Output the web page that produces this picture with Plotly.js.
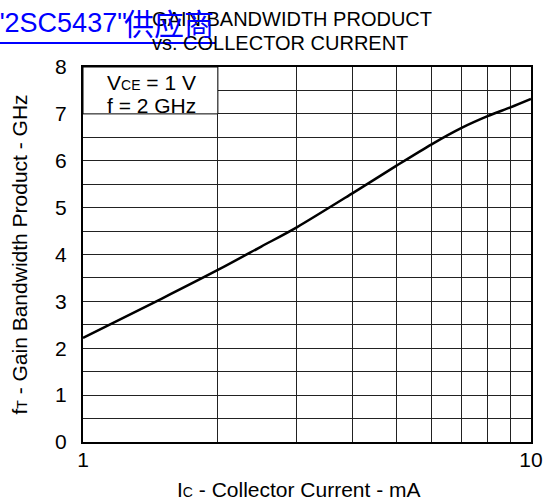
<!DOCTYPE html>
<html>
<head>
<meta charset="utf-8">
<script src="https://cdn.plot.ly/plotly-3.0.1.min.js"></script>
<style>body{margin:0;padding:0;background:#fff;}</style>
</head>
<body>
<div id="chart" style="width:543px;height:501px;"></div>
<script>
// Data
const collectorCurrent = [1, 1.5, 2, 2.5, 3, 4, 5, 6, 7, 8, 9, 10];          // mA
const gainBandwidth    = [2.22, 3.06, 3.67, 4.17, 4.58, 5.31, 5.89, 6.35, 6.70, 6.95, 7.14, 7.32]; // GHz
const xTickVals  = [1, 2, 3, 4, 5, 6, 7, 8, 9, 10];
const xTickText  = ['1', '', '', '', '', '', '', '', '', '10'];
const yTickVals  = [0, 0.5, 1, 1.5, 2, 2.5, 3, 3.5, 4, 4.5, 5, 5.5, 6, 6.5, 7, 7.5, 8];
const yTickText  = ['0', '', '1', '', '2', '', '3', '', '4', '', '5', '', '6', '', '7', '', '8'];
const conditionBox = {x: [1, 2], y: [7, 8]};

const FONT = 'Liberation Sans, Arial, Helvetica, sans-serif';
const sub = t => '<span style="font-size:14px">' + t + '</span>';

const W = 543, H = 501, L = 83, R = 12, T = 67, B = 59;
const pw = W - L - R, ph = H - T - B;
const px = v => (v - L) / pw;
const py = v => (H - B - v) / ph;

const trace = {
  x: collectorCurrent,
  y: gainBandwidth,
  type: 'scatter',
  mode: 'lines',
  line: {color: '#000', width: 2.5, shape: 'spline', smoothing: 0.8},
  hoverinfo: 'x+y',
  showlegend: false
};

const layout = {
  width: W, height: H,
  margin: {l: L, r: R, t: T, b: B, pad: 0},
  paper_bgcolor: '#fff',
  plot_bgcolor: '#fff',
  font: {family: FONT, size: 21, color: '#000'},
  showlegend: false,
  xaxis: {
    type: 'log',
    range: [0, 1],
    tickvals: xTickVals,
    ticktext: xTickText,
    ticks: '',
    ticklabelstandoff: -2,
    showgrid: true,
    gridcolor: '#222',
    gridwidth: 1,
    showline: true,
    linecolor: '#000',
    linewidth: 2,
    mirror: true,
    zeroline: false,
    tickfont: {family: FONT, size: 21, color: '#000'},
    automargin: false
  },
  yaxis: {
    range: [0, 8],
    tickvals: yTickVals,
    ticktext: yTickText,
    ticks: '',
    ticklabelstandoff: 10,
    showgrid: true,
    gridcolor: '#222',
    gridwidth: 1,
    showline: true,
    linecolor: '#000',
    linewidth: 2,
    mirror: true,
    zeroline: false,
    tickfont: {family: FONT, size: 21, color: '#000'},
    title: {text: 'f' + sub('T') + ' - Gain Bandwidth Product - GHz', font: {family: FONT, size: 21, color: '#000'}, standoff: 22},
    automargin: false
  },
  shapes: [
    {type: 'rect', xref: 'x', yref: 'y', x0: conditionBox.x[0], x1: conditionBox.x[1], y0: conditionBox.y[0], y1: conditionBox.y[1],
     fillcolor: '#fff', line: {color: '#000', width: 1}, layer: 'between'},
    {type: 'line', xref: 'paper', yref: 'paper', x0: px(0), x1: px(215), y0: py(43), y1: py(43),
     line: {color: '#0000ff', width: 2}, layer: 'above'}
  ],
  annotations: [
    {xref: 'paper', yref: 'paper', x: px(299), y: py(489.5), xanchor: 'center', yanchor: 'middle',
     text: 'I' + sub('C') + ' - Collector Current - mA', showarrow: false, font: {family: FONT, size: 21, color: '#000'}},
    {xref: 'paper', yref: 'paper', x: px(150), y: py(19), xanchor: 'left', yanchor: 'middle', align: 'left',
     text: 'GAIN BANDWIDTH PRODUCT', showarrow: false, font: {family: FONT, size: 20, color: '#000'}},
    {xref: 'paper', yref: 'paper', x: px(150), y: py(43), xanchor: 'left', yanchor: 'middle', align: 'left',
     text: 'vs. COLLECTOR CURRENT', showarrow: false, font: {family: FONT, size: 20, color: '#000'}},
    {xref: 'paper', yref: 'paper', x: px(-7), y: py(23.5), xanchor: 'left', yanchor: 'middle', align: 'left',
     text: '"2SC5437"', showarrow: false,
     font: {family: FONT, size: 27, color: '#0000ff'}},
    {xref: 'paper', yref: 'paper', x: px(122), y: py(22), xanchor: 'left', yanchor: 'middle', align: 'left',
     text: '供应商', showarrow: false,
     font: {family: 'Noto Sans CJK SC, sans-serif', size: 30, color: '#0000ff'}},
    {xref: 'paper', yref: 'paper', x: px(151), y: py(82), xanchor: 'center', yanchor: 'middle',
     text: 'V' + sub('CE') + ' = 1 V', showarrow: false, font: {family: FONT, size: 21, color: '#000'}},
    {xref: 'paper', yref: 'paper', x: px(151), y: py(105), xanchor: 'center', yanchor: 'middle',
     text: 'f = 2 GHz', showarrow: false, font: {family: FONT, size: 21, color: '#000'}}
  ]
};

Plotly.newPlot('chart', [trace], layout, {displayModeBar: false, staticPlot: true});
</script>
</body>
</html>
